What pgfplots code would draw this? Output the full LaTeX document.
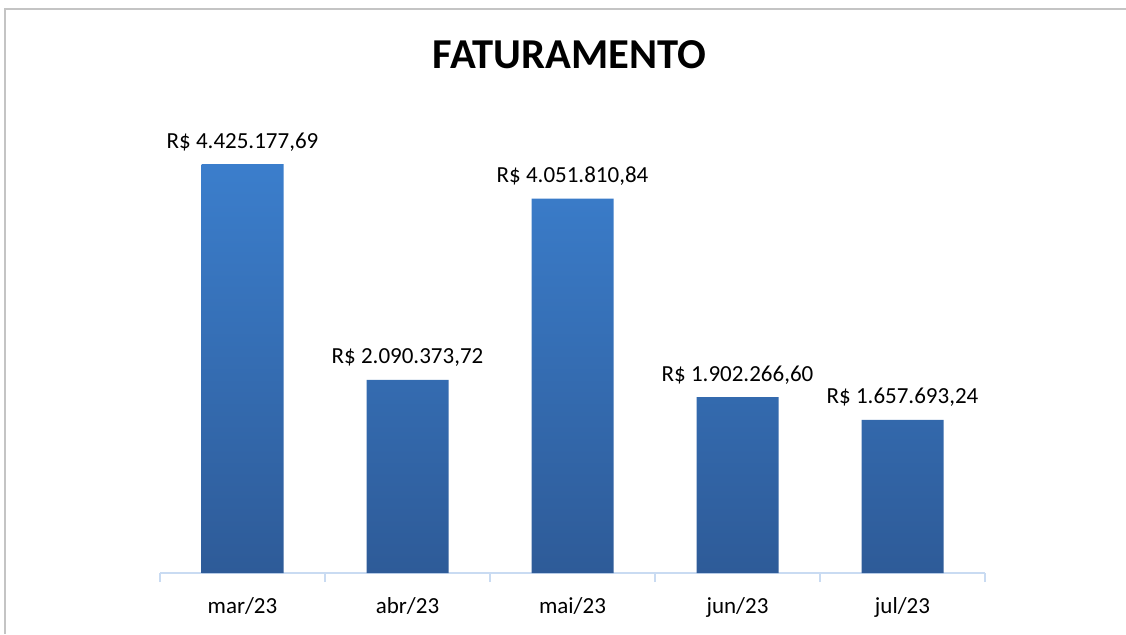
\documentclass[border=0pt]{standalone}
\usepackage{fontspec}
\setmainfont{Carlito}
\usepackage{pgfplots}
\pgfplotsset{compat=1.18}
\definecolor{barTop}{HTML}{3B7ECC}
\definecolor{barBot}{HTML}{2E5B98}
\definecolor{axisblue}{HTML}{C9DBF2}
\definecolor{frame}{HTML}{C4C4C4}

\begin{document}
\begin{tikzpicture}
% page size 1126x634 px, 1px = 0.5pt
\useasboundingbox (0,0) rectangle (563pt,317pt);
\draw[frame, line width=1pt] (2.5pt,0) -- (2.5pt,312.5pt) -- (563pt,312.5pt);
\node[anchor=base, font=\bfseries\fontsize{21.3}{25}\selectfont] at (284.75pt,283pt) {FATURAMENTO};
\begin{axis}[
  at={(121.25pt,30.5pt)}, anchor=origin,
  scale only axis, width=412.5pt, height=231pt,
  ymin=0, ymax=5000000, xmin=-0.5, xmax=4.5,
  axis y line=none, axis x line*=bottom,
  x axis line style={draw=axisblue, line width=1pt},
  xtick={0,1,2,3,4},
  xticklabels={mar/23,abr/23,mai/23,jun/23,jul/23},
  major tick length=0pt,
  xticklabel style={anchor=base, yshift=-20pt, font=\fontsize{11.5}{13}\selectfont},
  extra x ticks={-0.5,0.5,1.5,2.5,3.5,4.5},
  extra x tick labels={},
  extra x tick style={major tick length=4.5pt, tick align=outside,
    tick style={draw=axisblue, line width=1pt}},
  ybar, bar width=41pt,
  nodes near coords,
  point meta=explicit symbolic,
  nodes near coords style={anchor=base, yshift=8pt, font=\fontsize{11.5}{13}\selectfont},
  clip=false,
]
\addplot[ybar, draw=none, top color=barTop, bottom color=barBot] coordinates {
  (0,4425177.69) [R\$ 4.425.177,69]
  (1,2090373.72) [R\$ 2.090.373,72]
  (2,4051810.84) [R\$ 4.051.810,84]
  (3,1902266.60) [R\$ 1.902.266,60]
  (4,1657693.24) [R\$ 1.657.693,24]
};
\end{axis}
\end{tikzpicture}
\end{document}
